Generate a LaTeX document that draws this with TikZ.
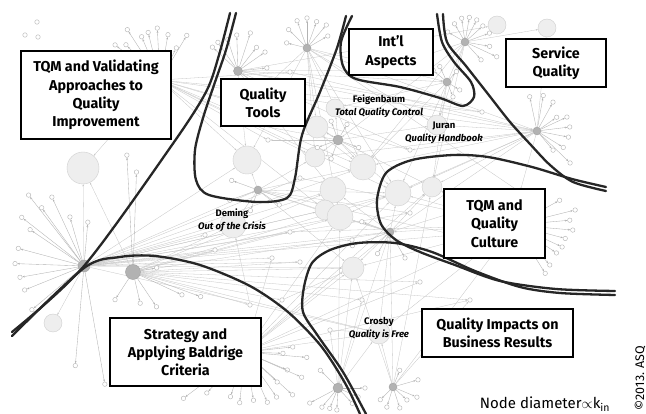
\documentclass[tikz,border=0pt]{standalone}
\usepackage{fontspec}
\setmainfont{Fira Sans}
\usetikzlibrary{arrows.meta,backgrounds}

\begin{document}
\begin{tikzpicture}[x=1pt,y=-1pt]
        \tikzset{
            hubnode/.style={circle, fill=gray!60, draw=gray!75, inner sep=0pt, minimum size=#1},
            bignode/.style={circle, fill=gray!13, draw=gray!38, line width=0.4pt, inner sep=0pt, minimum size=#1},
            leaf/.style={circle, fill=white, draw=gray!60, line width=0.4pt, inner sep=0pt, minimum size=4.5pt},
            spoke/.style={draw=gray!60, line width=0.35pt, -{Stealth[length=2.4pt,width=1.8pt]}},
            link/.style={draw=gray!45, line width=0.3pt, -{Stealth[length=2.2pt,width=1.6pt]}},
            boundary/.style={draw=black!85, line width=2.3pt, line cap=round},
            topic/.style={draw, line width=1.1pt, fill=white, align=center, inner sep=0pt,
                font=\bfseries\fontsize{14.3}{18.3}\selectfont},
            author/.style={align=center, inner sep=0pt, font=\bfseries\fontsize{9.5}{13}\selectfont}
        }

        \useasboundingbox (0,0) rectangle (646,414);

        % hubs (dark), some hidden behind the boxes
        \node[hubnode=12pt] (h1) at (84,266) {};
        \node[hubnode=15pt] (h2) at (133,272) {};
        \node[hubnode=9pt] (h3) at (238,71) {};
        \node[hubnode=8pt] (h4) at (307,48) {};
        \node[hubnode=8pt] (h5) at (258,190) {};
        \node[hubnode=10pt] (h6) at (338,140) {};
        \node[hubnode=8pt] (h7) at (465,42) {};
        \node[hubnode=8pt] (h8) at (447,82) {};
        \node[hubnode=8pt] (h9) at (537,131) {};
        \node[hubnode=8pt] (h10) at (390,232) {};
        \node[hubnode=10pt] (h11) at (338,388) {};
        \node[hubnode=8pt] (h12) at (393,387) {};
        \node[hubnode=8pt] (htv) at (160,80) {};
        \node[hubnode=8pt] (htc) at (515,225) {};
        \node[hubnode=8pt] (hsb) at (245,352) {};

        % cited works, diameter ~ k_in
        \foreach \n/\x/\y/\d in {b1/83/168/32, b2/247/160/28, b3/315/157/20, b4/363/167/26,
            b5/333/190/26, b6/325/210/20, b7/340/217/26, b8/398/193/26, b9/432/187/20,
            b10/353/268/22, b11/233/225/26, b12/379/333/22, b13/53/323/18, b14/497/25/18,
            b15/547/28/18, b16/437/125/20, b17/317/127/22, b18/335/108/18}
            \node[bignode=\d pt] (\n) at (\x,\y) {};

        % small works scattered in the middle
        \foreach \n/\x/\y in {s1/290/232, s2/272/258, s3/300/178, s4/362/300, s5/420/282,
            s6/282/300, s7/410/213, s8/352/240, s9/290/72, s10/382/70, s11/482/112, s12/520/192,
            s13/470/300, s14/250/305, s15/215/250, s16/300/262, s17/455/235, s18/268/140,
            s19/230/120, s20/410/150, s21/37/22, s22/25/35, s23/38/37, s24/205/235, s25/330/330}
            \node[leaf] (\n) at (\x,\y) {};

        % leaves around each hub (angle/length)
        \foreach \h/\lst in {
            h1/{232/90,245/76,234/72,218/79,254/51,214/65,275/44,195/68,182/69,170/65,158/64,140/68,95/100,80/120},
            h2/{123/33,77/32,56/42,25/54,20/72,350/24,267/117,272/100},
            htv/{237/60,256/49,267/52,280/46,247/47,218/57,226/49,297/36,301/52},
            h3/{223/35,235/35,252/33,268/36,288/40,308/30,325/33,354/29},
            h4/{194/21,225/26,250/29,270/30,290/28,310/30,330/24},
            h5/{200/28,160/30,35/26,110/22},
            h6/{250/20,300/18,160/22,20/22,110/20},
            h7/{210/20,240/21,262/24,280/25,298/25,318/24,340/26,10/25,25/35,48/24},
            h8/{220/18,245/17,312/14,32/15,68/16},
            h9/{258/35,280/36,299/33,325/24,335/33,353/33,11/32,32/31,44/46,50/25},
            htc/{331/51,346/62,355/55,5/58,15/52,25/52,34/50,49/53,58/57},
            hsb/{42/64,55/55,66/55,80/49,96/51,108/47,133/56,143/77,2/38,354/48,5/62,23/46,24/62,43/44},
            h10/{120/25,200/30,160/40,60/30},
            h11/{152/32,130/25,112/22,93/22,47/21,24/22,225/25,0/27},
            h12/{135/18,107/21,72/22,43/19,23/26,344/26,292/18}} {
            \foreach \a/\r in \lst {
                \node[leaf] (\h-\a) at ([shift={(\a:\r)}]\h) {};
                \draw[spoke] (\h) -- (\h-\a);
            }
        }

        % citations across the clusters
        \begin{scope}[on background layer]
            \fill[white] (0,0) rectangle (646,414);
            \foreach \s/\t in {h1/b11, h1/b2, h1/b5, h1/b7, h1/b6, h1/b8, h1/h10, h1/b10, h1/b4, h1/h5,
                h1/b12, h1/b1, h1/b13, h1/s1, h1/s2, h1/s3, h1/s7, h1/s8, h1/s16, h1/s15, h1/s24, h1/s17,
                h2/b11, h2/b7, h2/b8, h2/h10, h2/b10, h2/b5, h2/b1, h2/b12, h2/s1, h2/s4, h2/s5, h2/s6,
                h2/s14, h2/s16, h2/s13,
                h3/b2, h3/b17, h3/b4, h3/h6, h3/b14, h3/h8, h3/h9, h3/b5, h3/s10, h3/s11, h3/s20,
                h4/b17, h4/b3, h4/b4, h4/b16, h4/h9, h4/b2, h4/b8, h4/h8, h4/b7, h4/s19, h4/s12,
                htv/b2, htv/b17, htv/b4, htv/h9, htv/b3, htv/b8, htv/b6, htv/b1, htv/s9, htv/s18,
                htv/s11, htv/s20,
                h5/b2, h5/b3, h5/b4, h5/b7, h5/b11, h5/b8, h5/b10, h5/h10, h5/s7, h5/s17,
                h6/b4, h6/b16, h6/b3, h6/b8, h6/b9, h6/b17, h6/b18, h6/s18, h6/s19,
                h7/b16, h7/b8, h7/b9, h7/b4, h7/h6, h7/b15, h7/s10, h8/b16, h8/b4, h8/b9, h8/b18,
                h9/b16, h9/b8, h9/b9, h9/b4, h9/b3, h9/b7, h9/h10, h9/b15, h9/s20, h9/s12, h9/s9,
                h10/b8, h10/b9, h10/b12, h10/b10, h10/b7, h10/b5, h10/s12,
                htc/b9, htc/b8, htc/b12, htc/h10, htc/b10, htc/s3, htc/s1,
                hsb/b10, hsb/b12, hsb/b7, hsb/b8, hsb/h10, hsb/b9, hsb/htc, hsb/s5, hsb/s13, hsb/s2,
                h11/b10, h11/b12, h11/h10, h11/b7, h11/s25, h11/s4, h12/b12, h12/b10, h12/h10,
                h12/htc, h12/b9, h12/s13, s14/b11, s6/b10, s25/b12}
                \draw[link] (\s) -- (\t);
        \end{scope}

        % cluster boundaries
        \draw[boundary] plot[smooth] coordinates {(230,13) (219,55) (206,92) (172,145) (84,266) (12,332)};
        \draw[boundary] plot[smooth] coordinates {(236,13) (226,50) (214,85) (203,118) (195,150) (196,180)
            (209,195) (257,202) (287,198) (295,178) (302,135) (320,92) (337,48) (346,16)};
        \draw[boundary] plot[smooth] coordinates {(352,16) (341,42) (343,66) (356,79) (400,87) (440,98)
            (463,106) (474,97) (471,82) (454,62) (442,42) (437,14)};
        \draw[boundary] plot[smooth] coordinates {(443,14) (447,42) (466,66) (488,94) (510,122) (530,144)
            (550,165) (573,182) (606,191)};
        \draw[boundary] plot[smooth] coordinates {(606,187) (572,179) (532,167) (488,157) (453,155) (412,160)
            (386,173) (377,200) (381,224) (396,240) (420,252) (455,265) (500,281) (556,289) (615,291)};
        \draw[boundary] plot[smooth] coordinates {(615,295) (560,293) (520,287) (475,271) (432,252) (395,243)
            (358,243) (330,250) (312,263) (304,287) (303,312) (318,336) (343,372) (366,414)};
        \draw[boundary] plot[smooth] coordinates {(12,336) (84,268) (120,257) (155,256) (200,265) (250,286)
            (288,312) (321,346) (345,383) (360,414)};

        % topics
        \node[topic, minimum width=150, minimum height=88] (tqmval) at (96,95)
            {TQM and Validating\\Approaches to\\Quality\\Improvement};
        \node[topic, minimum width=84, minimum height=47] (tools) at (263,102.5) {Quality\\Tools};
        \node[topic, minimum width=84, minimum height=46] (intl) at (391,52) {Int'l\\Aspects};
        \node[topic, minimum width=100, minimum height=48] (service) at (556,63) {Service\\Quality};
        \node[topic, minimum width=101, minimum height=69] (culture) at (494.5,223.5) {TQM and\\Quality\\Culture};
        \node[topic, minimum width=151, minimum height=68] (strategy) at (185.5,352)
            {Strategy and\\Applying Baldrige\\Criteria};
        \node[topic, minimum width=151, minimum height=48] (impacts) at (497.5,333)
            {Quality Impacts on\\Business Results};

        % key works
        \node[author] (feigenbaum) at (379,106.5) {Feigenbaum\\\textit{Total Quality Control}};
        \node[author] (juran) at (444,132.5) {Juran\\\textit{Quality Handbook}};
        \node[author] (deming) at (232,220) {Deming\\\textit{Out of the Crisis}};
        \node[author] (crosby) at (379,328.5) {Crosby\\\textit{Quality is Free}};

        \node[anchor=base, inner sep=0pt, font=\fontsize{15}{18}\selectfont] (legend) at (545,408)
            {Node diameter$\propto$k\textsubscript{in}};
        \node[rotate=90, inner sep=0pt, font=\fontsize{12.5}{15}\selectfont] (copyright) at (640,378)
            {©2013. ASQ};

    \end{tikzpicture}
\end{document}
